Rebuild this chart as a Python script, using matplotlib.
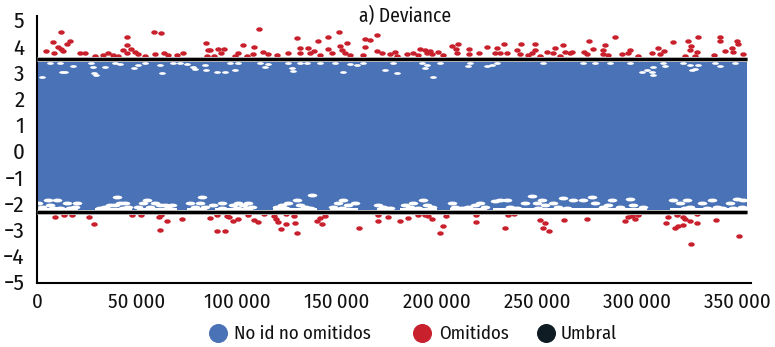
import matplotlib
matplotlib.use('Agg')
import matplotlib.pyplot as plt
from matplotlib.lines import Line2D
from matplotlib.markers import MarkerStyle
from matplotlib.transforms import Affine2D

plt.rcParams['font.family'] = ['Fira Sans Condensed', 'Liberation Sans', 'DejaVu Sans']

# thresholds
umbral_top = 3.49
umbral_bottom = -2.33

# extent of the dense cloud of non omitted points
band_x = [0, 20700, 20700, 29000, 29000, 47300, 47300, 50000, 50000, 69800, 69800, 74800, 74800, 84800, 84800, 89000, 89000,
          108200, 108200, 118200, 118200, 139800, 139800, 146500, 146500, 160700, 160700, 169800, 169800, 176500, 176500,
          181500, 181500, 199800, 199800, 206500, 206500, 224800, 224800, 228200, 228200, 304800, 304800, 316500, 316500, 355000]
band_top = [3.4] * len(band_x)
band_bottom = [-2.16, -2.16, -2.3, -2.3, -2.16, -2.16, -2.3, -2.3, -2.16, -2.16, -2.3, -2.3, -2.16, -2.16, -2.3, -2.3, -2.16,
               -2.16, -2.3, -2.3, -2.16, -2.16, -2.3, -2.3, -2.16, -2.16, -2.3, -2.3, -2.16, -2.16, -2.3,
               -2.3, -2.16, -2.16, -2.3, -2.3, -2.16, -2.16, -2.3, -2.3, -2.16, -2.16, -2.3, -2.3, -2.16, -2.16]
line_x = [0, 355000]

# omitted points above the threshold
red_top_x = [11800, 8200, 4500, 8500, 10500, 11800, 13200, 15200, 16500, 21500, 24000, 29000, 32800, 35700, 38200, 40700,
             42800, 44800, 45000, 44800, 47000, 49000, 50700, 54000, 59000, 58500, 61800, 63700, 65700, 69800, 72800,
             84300, 85700, 84800, 88500,
             111200, 129800, 145500, 151200, 140700, 169800, 164000, 166500, 154800, 164200, 151500, 90700, 93500, 92000,
             103200, 108700, 100700, 108200, 113200, 115700, 119800, 125700, 131500, 135700, 136500, 131500, 138500,
             145700, 147300, 152300, 154000, 169800, 172300, 176500, 86500, 99000, 104800, 141500, 156500, 163200,
             210300, 207300, 209300, 209800, 216000, 216000, 221000, 224800, 233700, 229800, 229000, 231500, 234800,
             241800, 239800, 241500, 248800, 249000, 247300, 254800, 259000, 263000, 258000, 264000, 266500, 179000,
             184800, 188200, 191500, 194000, 196500, 197300, 194800, 200700, 203200, 179800, 190500, 245500, 261500, 251500,
             289200, 275800, 284000, 278200, 273500, 283200, 282800, 285700, 274800, 267300, 292300, 296500, 295700,
             300300, 307300, 310700, 313700, 311500, 318200, 325500, 330300, 326800, 326500, 329800, 324000, 329000,
             338700, 341300, 341500, 350200, 350300, 347300, 344000, 348200, 353200]
red_top_y = [4.53, 4.17, 3.80, 3.74, 3.98, 3.89, 3.82, 4.08, 4.19, 3.75, 3.75, 3.63, 3.66, 3.73, 3.66, 3.64,
             3.85, 4.36, 4.06, 3.73, 3.88, 3.77, 3.69, 3.63, 3.69, 4.54, 4.49, 3.73, 3.66, 3.66, 3.74,
             4.11, 3.85, 3.64, 3.63,
             4.64, 4.30, 4.34, 4.55, 4.21, 4.44, 4.27, 4.24, 4.12, 3.98, 4.01, 3.88, 3.88, 3.73,
             4.03, 3.96, 3.73, 3.69, 3.77, 3.69, 3.66, 3.73, 3.92, 3.92, 3.73, 3.73, 3.83,
             3.88, 3.73, 3.85, 3.73, 3.83, 3.73, 3.70, 3.85, 3.64, 3.63, 3.66, 3.66, 3.66,
             4.08, 4.01, 3.88, 3.75, 3.88, 3.69, 3.73, 3.96, 4.07, 3.93, 3.75, 3.73, 3.73,
             4.08, 3.85, 3.69, 4.08, 3.85, 3.73, 3.79, 3.94, 4.06, 3.73, 3.79, 3.73, 3.77,
             3.69, 3.73, 3.88, 3.85, 3.83, 3.69, 3.73, 3.77, 3.66, 3.63, 3.66, 3.66, 3.63, 3.63,
             4.34, 4.21, 4.05, 3.88, 3.79, 3.85, 3.69, 3.66, 3.69, 3.77, 3.69, 3.85, 3.73,
             3.64, 3.75, 3.92, 3.83, 3.69, 4.15, 4.21, 4.36, 4.01, 3.85, 3.79, 3.64, 3.64,
             3.66, 4.36, 4.21, 4.21, 4.08, 3.92, 3.83, 3.77, 3.70]

# omitted points below the threshold
red_low_x = [9200, 13500, 17300, 25800, 28500, 47300, 51800, 61800, 61200, 65200, 61300, 72300, 86700,
             89800, 93800, 89800, 94800, 96200, 98200, 100700, 105700, 108700, 110300, 113500, 118500, 119500, 120700,
             124500, 124500, 122000, 128700, 128800, 129800, 144000, 141500, 140200, 142300, 160800, 170300, 170300, 175300,
             181500, 185700, 190700, 194000, 197300, 195700, 204500, 202800, 201500, 219500, 219500, 233800, 235700, 238500,
             251500, 253800, 253000, 256000, 263500,
             275200, 294000, 295700, 297300, 300700, 299000, 315700, 314300, 319000, 320700, 323200, 319800, 323200, 324000,
             326500, 329800, 329800, 339300, 327000, 351200]
red_low_y = [-2.51, -2.44, -2.44, -2.51, -2.79, -2.43, -2.43, -2.44, -2.51, -2.68, -3.00, -2.61, -2.57,
             -3.07, -3.04, -2.44, -2.48, -2.53, -2.68, -2.58, -2.43, -2.63, -2.72, -2.42, -2.48, -2.61, -2.70,
             -2.40, -2.79, -2.98, -2.48, -2.76, -3.14, -2.47, -2.57, -2.66, -2.77, -2.95, -2.44, -2.68, -2.53,
             -2.66, -2.56, -2.44, -2.43, -2.61, -2.48, -2.48, -2.85, -3.14, -2.44, -2.70, -2.95, -2.44, -2.42,
             -2.62, -2.75, -2.95, -3.06, -2.63,
             -2.61, -2.66, -2.53, -2.48, -2.43, -2.60, -2.53, -2.76, -2.95, -2.86, -2.82, -2.44, -2.51, -2.60,
             -2.68, -2.74, -2.40, -2.63, -3.54, -3.23]

# empty spots at the upper edge of the cloud
gap_top_x = [14000, 12300, 18000, 26800, 27800, 28500, 29300, 39000, 41500, 48500, 50700, 54000, 34000, 68200, 71500, 74800,
             78200, 79000, 84000, 84500, 62300, 61500, 2300, 11500, 6500,
             100700, 96500, 89800, 99000, 94000, 111500, 115700, 114000, 125700, 127300, 128200, 131500, 134800, 141500,
             149000, 156500, 159800, 163200, 174000, 153200,
             178000, 179800, 192300, 194800, 194000, 201500, 216500, 215500, 224800, 227300, 229800, 253000, 198000,
             273000, 296500, 304800, 307300, 308200, 302300, 308000, 313200, 314000, 323200, 326500, 330700, 329000, 327300,
             339000, 341500, 349000, 286500, 279000]
gap_top_y = [3.03, 3.03, 3.23, 3.35, 3.22, 2.99, 2.90, 3.35, 3.32, 3.18, 3.28, 3.37, 3.22, 3.35, 3.35, 3.31,
             3.22, 3.12, 3.28, 3.09, 2.96, 3.28, 2.84, 3.35, 3.35,
             3.35, 3.35, 3.03, 3.09, 3.03, 3.35, 3.32, 3.19, 3.35, 3.16, 3.06, 3.35, 3.35, 3.35,
             3.35, 3.31, 3.28, 3.37, 3.09, 3.03,
             3.35, 2.99, 3.35, 3.28, 3.16, 3.35, 3.35, 3.24, 3.26, 3.28, 3.35, 3.35, 2.84,
             3.35, 3.35, 3.09, 3.03, 3.22, 3.00, 2.90, 3.35, 3.24, 3.35, 3.28, 3.28, 3.12, 3.09,
             3.35, 3.24, 3.35, 3.35, 3.35]

# empty spots at the lower edge of the cloud
gap_low_x = [2300, 6500, 8200, 11500, 14800, 16500, 19000, 19800, 9800, 700, 5700, 4000, 13200,
             31500, 34000, 36500, 39000, 41500, 44000, 45700, 39800, 43200,
             50700, 53200, 54800, 56500, 59000, 61500, 64000, 65700, 67300,
             76500, 79000, 81500, 82300, 84000,
             92300, 88200, 92300, 98200, 100700, 103200, 105700, 107300, 99800, 104800, 119800, 122300, 125700, 124000,
             129800, 131500, 134000, 137300, 136500, 148200, 150700, 153200, 155700, 159000, 152300, 170700, 173200, 176500,
             184000, 186500, 188200, 190700, 193200, 194800, 197300, 207300, 209000, 212300, 215700, 219000, 221500,
             224000, 229000, 231500, 234800, 236500, 239800, 244000, 247300, 249800, 252300, 254000, 250700, 258200, 260700,
             263200, 264800,
             268200, 273200, 277300, 279000, 283200, 287300, 285700, 291500, 296500, 298200, 303200, 318200, 321500,
             324800, 326500, 332300, 337300, 339800, 346500, 349800, 353200, 352300, 324000, 334800, 342300, 348200]
gap_low_y = [-2.13, -2.06, -2.19, -2.19, -2.00, -2.19, -2.13, -2.00, -1.87, -2.00, -1.87, -2.25, -2.25,
             -2.19, -2.13, -2.06, -2.06, -2.00, -2.00, -2.13, -1.74, -2.19,
             -2.13, -2.00, -1.87, -2.13, -2.00, -2.06, -2.06, -2.19, -2.06,
             -2.00, -2.13, -2.00, -1.74, -2.13,
             -2.00, -2.06, -2.19, -2.06, -2.00, -2.06, -2.00, -2.13, -2.19, -2.19, -2.13, -2.06, -2.00, -2.19,
             -1.87, -2.06, -2.13, -1.70, -2.19, -2.13, -2.00, -1.87, -2.06, -2.00, -2.19, -2.06, -2.13, -2.19,
             -2.06, -2.13, -1.97, -2.19, -1.87, -2.06, -2.13, -1.97, -2.13, -2.19, -2.13, -2.06, -1.97,
             -2.13, -1.90, -1.87, -1.87, -2.13, -2.19, -1.97, -1.72, -2.00, -1.87, -2.06, -2.19, -1.97, -2.13,
             -1.80, -2.19,
             -1.87, -1.87, -1.74, -2.00, -2.13, -1.87, -2.06, -2.13, -1.84, -2.06, -2.13, -1.87, -2.00,
             -1.87, -2.13, -2.00, -1.87, -2.13, -2.00, -1.84, -1.87, -2.13, -2.19, -2.19, -2.19, -2.19]

x_ticks = [0, 50000, 100000, 150000, 200000, 250000, 300000, 350000]
x_labels = ['0', '50\u2009000', '100\u2009000', '150\u2009000', '200\u2009000', '250\u2009000', '300\u2009000', '350\u2009000']
y_ticks = [5, 4, 3, 2, 1, 0, -1, -2, -3, -4, -5]
y_labels = ['5', '4', '3', '2', '1', '0', '\u22121', '\u22122', '\u22123', '\u22124', '\u22125']
legend_labels = ['No id no omitidos', 'Omitidos', 'Umbral']

blue = '#4a72b6'
red = '#c8202d'
dark = '#101c24'
W, H = 775, 347

fig = plt.figure(figsize=(W / 100, H / 100), dpi=100)
ax = fig.add_axes([37 / W, 1 - 283 / H, (750.5 - 37) / W, (283 - 16) / H])
ax.set_xlim(0, 356750)
ax.set_ylim(-5.04, 5.15)

ax.fill_between(band_x, band_bottom, band_top, color=blue, lw=0, zorder=1)

# points are a bit wider than tall in the picture
wide = MarkerStyle('o', transform=Affine2D().scale(1.25, 0.85))
gap_shape = MarkerStyle('o', transform=Affine2D().scale(2.0, 0.8))
ax.scatter(gap_top_x, gap_top_y, s=6, color='white', marker=gap_shape, lw=0, zorder=2)
ax.scatter(gap_low_x, gap_low_y, s=12, color='white', marker=gap_shape, lw=0, zorder=2)
ax.scatter(red_top_x, red_top_y, s=14, color=red, marker=wide, lw=0, zorder=3)
ax.scatter(red_low_x, red_low_y, s=14, color=red, marker=wide, lw=0, zorder=3)

ax.plot(line_x, [umbral_top, umbral_top], color='#b8b8b8', lw=3.6, zorder=4, solid_capstyle='butt')
ax.plot(line_x, [umbral_bottom, umbral_bottom], color='#b8b8b8', lw=3.6, zorder=4, solid_capstyle='butt')
ax.plot(line_x, [umbral_top, umbral_top], color='black', lw=2.2, zorder=5, solid_capstyle='butt')
ax.plot(line_x, [umbral_bottom, umbral_bottom], color='black', lw=2.2, zorder=5, solid_capstyle='butt')

for side in ['top', 'right']:
    ax.spines[side].set_visible(False)
for side in ['left', 'bottom']:
    ax.spines[side].set_linewidth(1.5)
    ax.spines[side].set_color('black')

ax.set_xticks(x_ticks)
ax.set_xticklabels(x_labels)
ax.set_yticks(y_ticks)
ax.set_yticklabels(y_labels)
ax.tick_params(axis='x', length=0, labelsize=15, labelcolor='#111111', pad=7)
ax.tick_params(axis='y', length=0, labelsize=16.5, labelcolor='#111111', pad=9)

fig.text(405 / W, 1 - 16 / H, 'a) Deviance', ha='center', va='center', fontsize=14, color='#111111')

# legend gaps are uneven in the picture, so one entry at a time
legend_colors = [blue, red, dark]
legend_marks = [218, 422, 546]
legend_texts = [234, 439, 561]
for label, color, mark, left in zip(legend_labels, legend_colors, legend_marks, legend_texts):
    fig.add_artist(Line2D([mark / W], [1 - 333 / H], ls='', marker='o', ms=13.7, color=color, mew=0,
                          transform=fig.transFigure))
    fig.text(left / W, 1 - 334 / H, label, ha='left', va='center', fontsize=13.5, color='#111111')

fig.savefig('out.png', dpi=100)
